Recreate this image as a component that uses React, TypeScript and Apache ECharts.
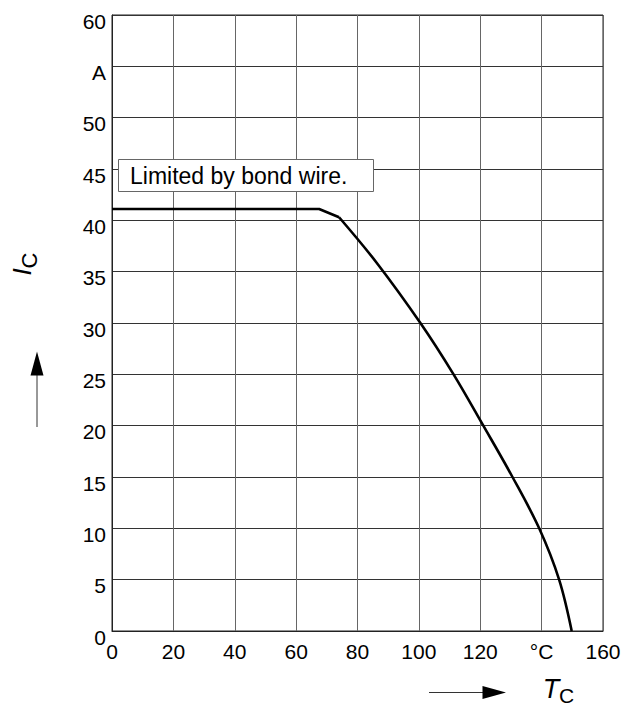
import React, { useEffect, useRef } from "react";
import * as echarts from "echarts";

const flatTc = [0, 67.5, 74];
const flatIc = [41.1, 41.1, 40.3];
const curveTc = [74, 86.3, 100.5, 111.3, 121, 130.5, 139.2, 145.7, 149.8];
const curveIc = [40.3, 35.85, 30, 25, 20, 15, 10, 5, 0];
const xTickLabels: Record<number, string> = { 140: "°C" };
const yTickLabels: Record<number, string> = { 55: "A" };
const noteText = "Limited by bond wire.";

const FONT = "'Liberation Sans', Arial, Helvetica, sans-serif";

export default function App() {
  const ref = useRef<HTMLDivElement>(null);
  useEffect(() => {
    if (!ref.current) return;
    const chart = echarts.init(ref.current, undefined, { renderer: "svg" });
    const flatData = flatTc.map((x, i) => [x, flatIc[i]]);
    const curveData = curveTc.map((x, i) => [x, curveIc[i]]);
    chart.setOption({
      animation: false,
      backgroundColor: "#fff",
      textStyle: { fontFamily: FONT },
      grid: {
        left: 112,
        right: 30,
        top: 15,
        bottom: 75,
        show: true,
        borderColor: "#222",
        borderWidth: 1,
        backgroundColor: "transparent",
      },
      xAxis: {
        type: "value",
        min: 0,
        max: 160,
        interval: 20,
        axisLine: { show: true, lineStyle: { color: "#222", width: 1 } },
        axisTick: { show: false },
        splitLine: { show: true, lineStyle: { color: "#666", width: 1 } },
        axisLabel: {
          margin: 10,
          fontSize: 21,
          color: "#000",
          fontFamily: FONT,
          formatter: (v: number) => (xTickLabels[v] !== undefined ? xTickLabels[v] : String(v)),
        },
      },
      yAxis: {
        type: "value",
        min: 0,
        max: 60,
        interval: 5,
        axisLine: { show: true, lineStyle: { color: "#222", width: 1 } },
        axisTick: { show: false },
        splitLine: { show: true, lineStyle: { color: "#333", width: 1 } },
        axisLabel: {
          margin: 6,
          fontSize: 21,
          color: "#000",
          fontFamily: FONT,
          verticalAlign: "top",
          lineHeight: 12,
          formatter: (v: number) => (yTickLabels[v] !== undefined ? yTickLabels[v] : String(v)),
        },
      },
      series: [
        {
          type: "line",
          data: flatData,
          showSymbol: false,
          smooth: false,
          lineStyle: { color: "#000", width: 2.6 },
          z: 5,
        },
        {
          type: "line",
          data: curveData,
          showSymbol: false,
          smooth: 0.35,
          lineStyle: { color: "#000", width: 2.6 },
          z: 5,
        },
      ],
      graphic: [
        {
          type: "rect",
          shape: { x: 118.5, y: 159.5, width: 255, height: 32 },
          style: { fill: "#fff", stroke: "#666", lineWidth: 1 },
          z: 10,
        },
        {
          type: "text",
          x: 130,
          y: 175.5,
          style: {
            text: noteText,
            fontSize: 23,
            fontFamily: FONT,
            fill: "#000",
            verticalAlign: "middle",
            align: "left",
          },
          z: 11,
        },
        // y axis name
        {
          type: "text",
          x: 21.5,
          y: 272,
          rotation: Math.PI / 2,
          style: {
            text: "I",
            fontSize: 26,
            fontStyle: "italic",
            fontFamily: FONT,
            fill: "#000",
            align: "center",
            verticalAlign: "middle",
          },
        },
        {
          type: "text",
          x: 29,
          y: 260.5,
          rotation: Math.PI / 2,
          style: {
            text: "C",
            fontSize: 22,
            fontFamily: FONT,
            fill: "#000",
            align: "center",
            verticalAlign: "middle",
          },
        },
        {
          type: "line",
          shape: { x1: 37, y1: 427, x2: 37, y2: 374 },
          style: { stroke: "#333", lineWidth: 1 },
        },
        {
          type: "polygon",
          shape: { points: [[37, 351.5], [30.5, 375.5], [43.5, 375.5]] },
          style: { fill: "#000" },
        },
        // x axis name
        {
          type: "line",
          shape: { x1: 429, y1: 692.5, x2: 484, y2: 692.5 },
          style: { stroke: "#333", lineWidth: 1 },
        },
        {
          type: "polygon",
          shape: { points: [[506, 692.5], [482.5, 686], [482.5, 699]] },
          style: { fill: "#000" },
        },
        {
          type: "text",
          x: 551,
          y: 689,
          style: {
            text: "T",
            fontSize: 27,
            fontStyle: "italic",
            fontFamily: FONT,
            fill: "#000",
            align: "center",
            verticalAlign: "middle",
          },
        },
        {
          type: "text",
          x: 566.5,
          y: 695,
          style: {
            text: "C",
            fontSize: 21,
            fontFamily: FONT,
            fill: "#000",
            align: "center",
            verticalAlign: "middle",
          },
        },
      ],
    });
    return () => chart.dispose();
  }, []);
  return (
    <div
      ref={ref}
      style={{ position: "fixed", left: 0, top: 0, width: 633, height: 706, background: "#fff" }}
    />
  );
}
